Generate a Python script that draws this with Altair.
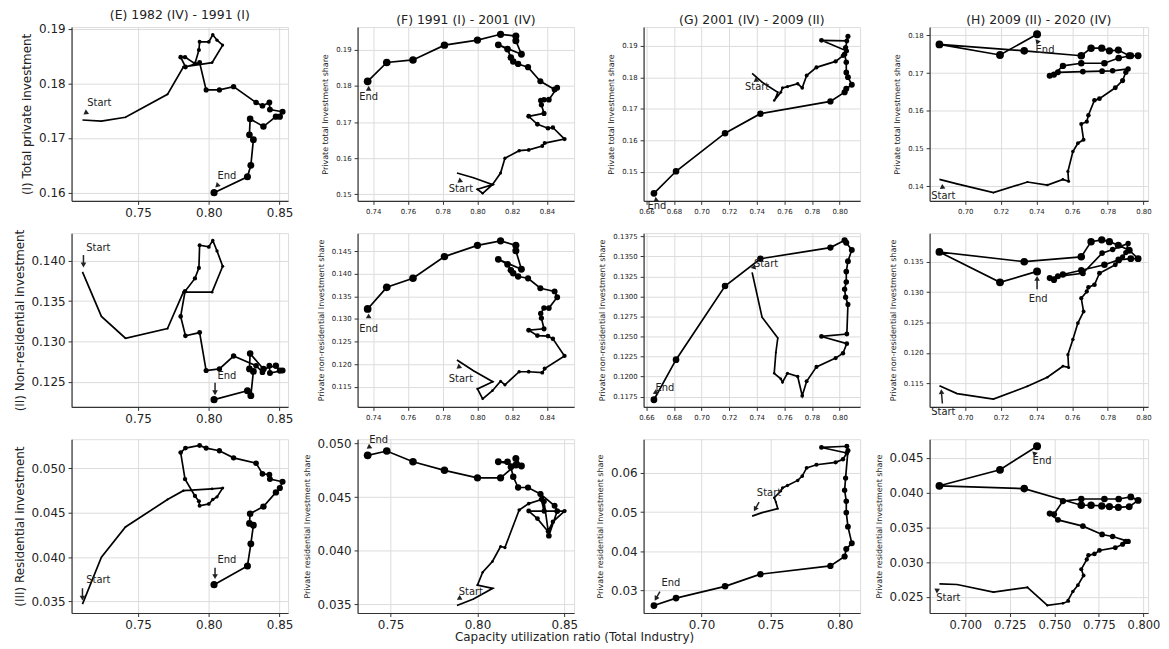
import math
import altair as alt
import pandas as pd

FONT = "DejaVu Sans"
INK = "#222222"

col_titles = ["(E) 1982 (IV) - 1991 (I)", "(F) 1991 (I) - 2001 (IV)",
              "(G) 2001 (IV) - 2009 (II)", "(H) 2009 (II) - 2020 (IV)"]
row_titles_big = ["(I) Total private investment", "(II) Non-residential investment",
                  "(III) Residential investment"]
row_titles_small = ["Private total Investment share", "Private non-residential Investment share",
                    "Private residential Investment share"]
x_title = "Capacity utilization ratio (Total Industry)"

# ---- capacity utilization (x) per period
E_x = [0.7107, 0.7241, 0.7411, 0.7708, 0.7820, 0.8023, 0.8098, 0.8058, 0.8028, 0.8000, 0.7935, 0.7930,
       0.7902, 0.7832, 0.7801, 0.7835, 0.7935, 0.7981, 0.8075, 0.8175, 0.8334, 0.8379, 0.8428, 0.8432,
       0.8521, 0.8502, 0.8474, 0.8386, 0.8292, 0.8287, 0.8315, 0.8297, 0.8273, 0.8037]
F_x = [0.7882, 0.7977, 0.8088, 0.8000, 0.8030, 0.8086, 0.8133, 0.8158, 0.8240, 0.8295, 0.8373, 0.8387,
       0.8501, 0.8434, 0.8406, 0.8345, 0.8295, 0.8383, 0.8368, 0.8364, 0.8383, 0.8411, 0.8459, 0.8444,
       0.8362, 0.8291, 0.8234, 0.8206, 0.8192, 0.8173, 0.8120, 0.8253, 0.8221, 0.8221, 0.8133, 0.8000,
       0.7810, 0.7629, 0.7478, 0.7368]
G_x = [0.7366, 0.7438, 0.7552, 0.7538, 0.7526, 0.7574, 0.7586, 0.7622, 0.7696, 0.7729, 0.7761, 0.7832,
       0.7971, 0.8024, 0.8052, 0.7868, 0.8052, 0.8060, 0.8043, 0.8036, 0.8048, 0.8048, 0.8060, 0.8088,
       0.8048, 0.8036, 0.7933, 0.7426, 0.7170, 0.6815, 0.6655]
H_x = [0.6855, 0.6954, 0.7158, 0.7349, 0.7461, 0.7548, 0.7580, 0.7576, 0.7604, 0.7632, 0.7664, 0.7651,
       0.7682, 0.7691, 0.7725, 0.7753, 0.7842, 0.7883, 0.7901, 0.7914, 0.7827, 0.7768, 0.7660, 0.7520,
       0.7474, 0.7498, 0.7548, 0.7651, 0.7781, 0.7861, 0.7929, 0.7970, 0.7920, 0.7859, 0.7809, 0.7766,
       0.7706, 0.7651, 0.7331, 0.6855, 0.7195, 0.7403]

# ---- investment shares
E_total = [0.1733, 0.1731, 0.1738, 0.1780, 0.1830, 0.1838, 0.1870, 0.1879, 0.1889, 0.1876, 0.1876, 0.1861,
           0.1836, 0.1848, 0.1848, 0.1830, 0.1838, 0.1788, 0.1788, 0.1794, 0.1765, 0.1759, 0.1765, 0.1752,
           0.1748, 0.1739, 0.1739, 0.1721, 0.1735, 0.1706, 0.1697, 0.1650, 0.1629, 0.1600]
E_nonres = [0.1386, 0.1331, 0.1304, 0.1316, 0.1361, 0.1361, 0.1393, 0.1412, 0.1425, 0.1417, 0.1419, 0.1391,
            0.1378, 0.1362, 0.1331, 0.1307, 0.1311, 0.1264, 0.1266, 0.1282, 0.1270, 0.1262, 0.1270, 0.1261,
            0.1264, 0.1264, 0.1270, 0.1266, 0.1285, 0.1266, 0.1263, 0.1233, 0.1239, 0.1228]
E_res = [0.0347, 0.0400, 0.0434, 0.0465, 0.0475, 0.0477, 0.0478, 0.0468, 0.0465, 0.0460, 0.0458, 0.0463,
         0.0469, 0.0488, 0.0518, 0.0523, 0.0526, 0.0523, 0.0520, 0.0512, 0.0506, 0.0494, 0.0493, 0.0488,
         0.0485, 0.0478, 0.0473, 0.0457, 0.0449, 0.0438, 0.0436, 0.0415, 0.0390, 0.0369]

F_total = [0.1559, 0.1546, 0.1527, 0.1514, 0.1503, 0.1527, 0.1559, 0.1600, 0.1621, 0.1623, 0.1634, 0.1642,
           0.1653, 0.1685, 0.1683, 0.1694, 0.1716, 0.1724, 0.1748, 0.1760, 0.1762, 0.1762, 0.1795, 0.1790,
           0.1813, 0.1852, 0.1861, 0.1868, 0.1879, 0.1902, 0.1914, 0.1888, 0.1925, 0.1938, 0.1943, 0.1927,
           0.1913, 0.1872, 0.1865, 0.1813]
F_nonres = [0.1209, 0.1185, 0.1161, 0.1145, 0.1123, 0.1141, 0.1162, 0.1154, 0.1183, 0.1183, 0.1181, 0.1190,
            0.1218, 0.1256, 0.1262, 0.1263, 0.1275, 0.1278, 0.1302, 0.1312, 0.1324, 0.1324, 0.1348, 0.1361,
            0.1368, 0.1390, 0.1394, 0.1401, 0.1408, 0.1421, 0.1432, 0.1410, 0.1451, 0.1463, 0.1473, 0.1463,
            0.1438, 0.1390, 0.1370, 0.1322]
F_res = [0.0349, 0.0355, 0.0365, 0.0368, 0.0380, 0.0390, 0.0404, 0.0403, 0.0438, 0.0444, 0.0448, 0.0437,
         0.0437, 0.0427, 0.0418, 0.0430, 0.0437, 0.0437, 0.0448, 0.0453, 0.0446, 0.0414, 0.0437, 0.0442,
         0.0453, 0.0459, 0.0459, 0.0469, 0.0478, 0.0483, 0.0483, 0.0479, 0.0486, 0.0480, 0.0468, 0.0468,
         0.0475, 0.0483, 0.0493, 0.0489]

G_total = [0.1813, 0.1785, 0.1753, 0.1736, 0.1727, 0.1753, 0.1767, 0.1771, 0.1780, 0.1767, 0.1806, 0.1832,
           0.1851, 0.1869, 0.1884, 0.1918, 0.1916, 0.1931, 0.1895, 0.1874, 0.1848, 0.1816, 0.1801, 0.1777,
           0.1764, 0.1753, 0.1724, 0.1685, 0.1623, 0.1502, 0.1432]
G_nonres = [0.1330, 0.1274, 0.1248, 0.1230, 0.1204, 0.1197, 0.1193, 0.1204, 0.1200, 0.1176, 0.1194, 0.1212,
            0.1223, 0.1229, 0.1241, 0.1250, 0.1253, 0.1290, 0.1299, 0.1309, 0.1318, 0.1331, 0.1344, 0.1358,
            0.1367, 0.1370, 0.1361, 0.1347, 0.1313, 0.1221, 0.1171]
G_res = [0.0490, 0.0499, 0.0509, 0.0526, 0.0537, 0.0554, 0.0562, 0.0568, 0.0581, 0.0592, 0.0613, 0.0621,
         0.0627, 0.0635, 0.0651, 0.0665, 0.0668, 0.0657, 0.0587, 0.0556, 0.0528, 0.0499, 0.0463, 0.0421,
         0.0406, 0.0387, 0.0363, 0.0342, 0.0311, 0.0281, 0.0262]

H_total = [0.1418, 0.1406, 0.1383, 0.1411, 0.1403, 0.1418, 0.1413, 0.1439, 0.1492, 0.1514, 0.1523, 0.1565,
           0.1571, 0.1588, 0.1628, 0.1632, 0.1661, 0.1680, 0.1702, 0.1711, 0.1706, 0.1705, 0.1704, 0.1702,
           0.1693, 0.1696, 0.1719, 0.1726, 0.1726, 0.1740, 0.1746, 0.1746, 0.1746, 0.1761, 0.1759, 0.1766,
           0.1766, 0.1746, 0.1759, 0.1776, 0.1748, 0.1803]
H_nonres = [0.1146, 0.1133, 0.1124, 0.1145, 0.1160, 0.1178, 0.1176, 0.1197, 0.1222, 0.1249, 0.1268, 0.1290,
            0.1301, 0.1308, 0.1312, 0.1331, 0.1345, 0.1358, 0.1365, 0.1380, 0.1370, 0.1364, 0.1331, 0.1326,
            0.1323, 0.1320, 0.1329, 0.1336, 0.1345, 0.1353, 0.1355, 0.1355, 0.1369, 0.1377, 0.1383, 0.1386,
            0.1383, 0.1358, 0.1350, 0.1366, 0.1316, 0.1334]
H_res = [0.0269, 0.0268, 0.0257, 0.0264, 0.0238, 0.0241, 0.0244, 0.0245, 0.0258, 0.0267, 0.0281, 0.0290,
         0.0304, 0.0310, 0.0312, 0.0317, 0.0321, 0.0326, 0.0330, 0.0330, 0.0337, 0.0340, 0.0352, 0.0361,
         0.0370, 0.0369, 0.0388, 0.0391, 0.0391, 0.0391, 0.0394, 0.0389, 0.0380, 0.0379, 0.0380, 0.0381,
         0.0382, 0.0382, 0.0406, 0.0410, 0.0433, 0.0467]

# ---- axis tick values
E_xticks = [0.75, 0.80, 0.85]
F_xticks = [0.74, 0.76, 0.78, 0.80, 0.82, 0.84]
F_xticks_bot = [0.75, 0.80, 0.85]
G_xticks = [0.66, 0.68, 0.70, 0.72, 0.74, 0.76, 0.78, 0.80]
G_xticks_bot = [0.70, 0.75, 0.80]
H_xticks = [0.70, 0.72, 0.74, 0.76, 0.78, 0.80]
H_xticks_bot = [0.700, 0.725, 0.750, 0.775, 0.800]

E_yticks = [[0.16, 0.17, 0.18, 0.19], [0.125, 0.130, 0.135, 0.140], [0.035, 0.040, 0.045, 0.050]]
F_yticks = [[0.15, 0.16, 0.17, 0.18, 0.19], [0.115, 0.120, 0.125, 0.130, 0.135, 0.140, 0.145],
            [0.035, 0.040, 0.045, 0.050]]
G_yticks = [[0.15, 0.16, 0.17, 0.18, 0.19],
            [0.1175, 0.1200, 0.1225, 0.1250, 0.1275, 0.1300, 0.1325, 0.1350, 0.1375],
            [0.03, 0.04, 0.05, 0.06]]
H_yticks = [[0.14, 0.15, 0.16, 0.17, 0.18], [0.115, 0.120, 0.125, 0.130, 0.135],
            [0.025, 0.030, 0.035, 0.040, 0.045]]

# ---- layout (styles)
WIDTHS = [218, 218, 218, 220]
HEIGHTS = [175, 175, 175]
XDOM = [[0.703, 0.856], [0.731, 0.8556], [0.658, 0.8148], [0.680, 0.8026]]
YDOM = [
    [[0.1585, 0.1903], [0.1219, 0.1434], [0.0337, 0.0533]],
    [[0.1482, 0.1963], [0.1105, 0.1490], [0.0342, 0.0504]],
    [[0.1408, 0.1960], [0.1162, 0.1379], [0.0243, 0.0686]],
    [[0.1361, 0.1822], [0.1111, 0.1397], [0.0227, 0.0477]],
]
YFMT = [[".2f", ".3f", ".3f"], [".2f", ".3f", ".3f"], [".2f", ".4f", ".2f"], [".2f", ".3f", ".3f"]]

# annotation offsets in px: (text dx,dy), (head dx,dy), shaft tail or None
ANN = {
    (0, 0): [((17, -17), (3, -7), None), ((13, -17), (3, -7), None)],
    (0, 1): [((16, -24), (1, -7), (1, -17)), ((13, -24), (1, -7), (1, -17))],
    (0, 2): [((16, -24), (0, -6), (0, -16)), ((13, -25), (1, -8), (1, -17))],
    (1, 0): [((4, 16), (3, 7), None), ((1, 16), (1, 7), None)],
    (1, 1): [((4, 19), (2, 6), None), ((1, 20), (1, 7), None)],
    (1, 2): [((14, -14), (2, -7), None), ((11, -15), (1, -8), None)],
    (2, 0): [((5, 14), (4, 6), None), ((3, 13), (2, 6), None)],
    (2, 1): [((14, -8), (1, -5), None), ((11, -12), (1, -7), None)],
    (2, 2): [((17, -23), (3, -7), (7, -14)), ((17, -23), (2, -7), (6, -14))],
    (3, 0): [((4, 17), (3, 7), None), ((8, 16), (0, 7), None)],
    (3, 1): [((4, 27), (2, 6), (3, 18)), ((1, 28), (0, 7), (0, 18))],
    (3, 2): [((9, 14), (-3, 6), None), ((5, 15), (-3, 7), None)],
}

XS = [E_x, F_x, G_x, H_x]
YS = [[E_total, E_nonres, E_res], [F_total, F_nonres, F_res], [G_total, G_nonres, G_res],
      [H_total, H_nonres, H_res]]
XT = [[E_xticks, E_xticks, E_xticks], [F_xticks, F_xticks, F_xticks_bot],
      [G_xticks, G_xticks, G_xticks_bot], [H_xticks, H_xticks, H_xticks_bot]]
XFMT = [[".2f"] * 3, [".2f"] * 3, [".2f"] * 3, [".2f", ".2f", ".3f"]]
YT = [E_yticks, F_yticks, G_yticks, H_yticks]


def panel(c, r):
    xs = XS[c]
    ys = YS[c][r]
    n = len(xs)
    df = pd.DataFrame({"x": xs, "y": ys, "t": list(range(n))})
    big_x = (c == 0) or (r == 2)
    big_y = (c == 0) or (r == 2)
    ytitle = row_titles_big[r] if c == 0 else row_titles_small[r]
    ytitle_size = 12 if c == 0 else 8
    xlab = 7
    if big_x:
        xlab = 11.5 if (c == 3) else 12
    xaxis_kw = dict(
        values=XT[c][r], format=XFMT[c][r], labelFontSize=xlab,
        labelFont=FONT, labelColor=INK, labelPadding=3, labelOverlap=False, labelFlush=False,
        tickSize=3.5, tickColor="#333333", domainColor="#333333", domainWidth=1.2,
        grid=True, gridColor="#dcdcdc", gridWidth=1,
    )
    if c == 1 and r == 2:
        xaxis_kw.update(title=x_title, titleFontSize=12, titleFont=FONT, titleFontWeight="normal",
                        titleColor=INK, titleX=218, titlePadding=1)
        xenc = alt.X("x:Q", scale=alt.Scale(domain=XDOM[c], nice=False, zero=False),
                     axis=alt.Axis(**xaxis_kw))
    else:
        xenc = alt.X("x:Q", title=None, scale=alt.Scale(domain=XDOM[c], nice=False, zero=False),
                     axis=alt.Axis(**xaxis_kw))
    yenc = alt.Y("y:Q", title=ytitle, scale=alt.Scale(domain=YDOM[c][r], nice=False, zero=False),
                 axis=alt.Axis(values=YT[c][r], format=YFMT[c][r], labelFontSize=12 if big_y else 7,
                               labelFont=FONT, labelColor=INK, labelPadding=3, labelOverlap=False,
                               tickSize=3.5, tickColor="#333333", domainColor="#333333", domainWidth=1.2,
                               grid=True, gridColor="#dcdcdc", gridWidth=1,
                               titleFontSize=ytitle_size, titleFont=FONT, titleFontWeight="normal",
                               titleColor=INK, titlePadding=5 if c == 0 else 6))
    base = alt.Chart(df)
    line = base.mark_line(color="black", strokeWidth=1.7).encode(x=xenc, y=yenc, order="t:Q")
    pts = base.mark_circle(color="black", opacity=1).encode(
        x=xenc, y=yenc,
        size=alt.Size("t:Q", scale=alt.Scale(domain=[0, n - 1], range=[0, 64]), legend=None))
    layers = [line, pts]
    for idx, lab in ((0, "Start"), (n - 1, "End")):
        toff, hoff, soff = ANN[(c, r)][0 if lab == "Start" else 1]
        adf = pd.DataFrame({"x": [xs[idx]], "y": [ys[idx]], "label": [lab]})
        ab = alt.Chart(adf)
        layers.append(ab.mark_text(dx=toff[0], dy=toff[1], fontSize=10, font=FONT, color=INK,
                                   align="center", baseline="middle").encode(x=xenc, y=yenc, text="label:N"))
        tail = soff if soff else toff
        vx, vy = hoff[0] - tail[0], hoff[1] - tail[1]
        ang = math.degrees(math.atan2(vx, -vy)) % 360
        layers.append(ab.mark_point(shape="triangle-up", filled=True, size=32, angle=ang, opacity=1,
                                    color=INK, xOffset=hoff[0], yOffset=hoff[1]).encode(x=xenc, y=yenc))
        if soff:
            layers.append(ab.mark_rule(color=INK, strokeWidth=1.5, xOffset=soff[0], yOffset=soff[1],
                                       x2Offset=hoff[0], y2Offset=hoff[1]).encode(
                x=xenc, y=yenc, x2=alt.X2("x"), y2=alt.Y2("y")))
    ch = alt.layer(*layers).properties(width=WIDTHS[c], height=HEIGHTS[r])
    if r == 0:
        ch = ch.properties(title=alt.TitleParams(col_titles[c], fontSize=12.5, font=FONT,
                                                 fontWeight="normal", color=INK, offset=1, anchor="middle"))
    return ch


panels = [panel(c, r) for r in range(3) for c in range(4)]

chart = alt.concat(*panels, columns=4, spacing={"row": 32.5, "column": 70}, bounds="flush").configure_view(
    stroke="transparent").configure(background="white",
                                    padding={"left": 4, "top": -2, "right": 0, "bottom": 0})

chart.save("out.html", embed_options={"renderer": "svg", "actions": False})
